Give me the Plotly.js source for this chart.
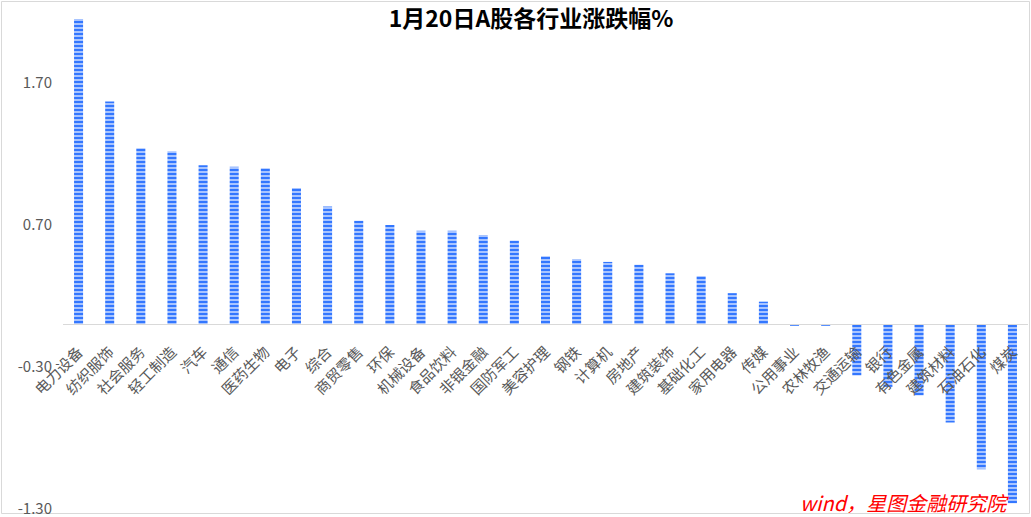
<!DOCTYPE html>
<html>
<head>
<meta charset="utf-8">
<script src="https://cdn.plot.ly/plotly-3.0.1.min.js"></script>
<style>
html,body{margin:0;padding:0;background:#fff;}
#chart{width:1031px;height:517px;}
</style>
</head>
<body>
<div id="chart"></div>
<script>
var categories = ["电力设备","纺织服饰","社会服务","轻工制造","汽车","通信","医药生物","电子","综合","商贸零售","环保","机械设备","食品饮料","非银金融","国防军工","美容护理","钢铁","计算机","房地产","建筑装饰","基础化工","家用电器","传媒","公用事业","农林牧渔","交通运输","银行","有色金属","建筑材料","石油石化","煤炭"];
var values = [2.15,1.57,1.24,1.22,1.12,1.11,1.10,0.96,0.83,0.73,0.70,0.66,0.66,0.63,0.59,0.48,0.46,0.44,0.42,0.36,0.34,0.22,0.16,-0.01,-0.01,-0.36,-0.44,-0.50,-0.69,-1.02,-1.26];
var yTicks = [-1.3,-0.3,0.7,1.7];
var yTickText = ["-1.30","-0.30","0.70","1.70"];
var titleText = "1月20日A股各行业涨跌幅%";
var sourceText = "wind，星图金融研究院";

var W = 1031, H = 517;
var mL = 63, mR = 3, mT = 12, mB = 8;
var yMin = -1.3, yMax = 2.2;
var plotW = W - mL - mR, plotH = H - mT - mB;
function px(x){ return (x - mL) / plotW; }
function py(y){ return (H - mB - y) / plotH; }

var font = "'Noto Sans CJK SC', 'Noto Sans', sans-serif";

var trace = {
  type: 'bar',
  x: categories,
  y: values,
  width: 0.29,
  marker: {
    color: '#3377FF',
    line: {width: 0},
    pattern: {shape: '-', fgcolor: '#3377FF', bgcolor: '#C6D8FF', size: 4, solidity: 0.6, fillmode: 'replace'}
  },
  hoverinfo: 'x+y'
};

var layout = {
  width: W, height: H,
  margin: {l: mL, r: mR, t: mT, b: mB, pad: 0},
  paper_bgcolor: '#ffffff',
  plot_bgcolor: 'rgba(0,0,0,0)',
  showlegend: false,
  title: {
    text: '<b>' + titleText + '</b>',
    font: {family: font, size: 23, color: '#000000'},
    xref: 'container', yref: 'container',
    x: 531 / W, y: 1 - 19 / H, xanchor: 'center', yanchor: 'middle'
  },
  xaxis: {
    type: 'category',
    anchor: 'free',
    position: (0 - yMin) / (yMax - yMin),
    showline: true, linecolor: '#D9D9D9', linewidth: 1,
    showgrid: false, zeroline: false,
    ticks: '',
    tickangle: -45,
    ticklabelstandoff: 12,
    tickfont: {family: font, size: 15, color: '#595959'},
    range: [-0.5, categories.length - 0.5],
    fixedrange: true
  },
  yaxis: {
    range: [yMin, yMax],
    tickvals: yTicks,
    ticktext: yTickText,
    showgrid: false, zeroline: false, showline: false,
    ticks: '',
    ticklabelstandoff: 10,
    ticklabeloverflow: 'allow',
    tickfont: {family: font, size: 15, color: '#595959'},
    fixedrange: true
  },
  shapes: [{
    type: 'rect', xref: 'paper', yref: 'paper',
    x0: px(1.5), x1: px(1029.5), y0: py(513.5), y1: py(1.5),
    line: {color: '#D9D9D9', width: 1}, fillcolor: 'rgba(0,0,0,0)', layer: 'below'
  }],
  annotations: [{
    text: '<i>' + sourceText + '</i>',
    xref: 'paper', yref: 'paper',
    x: px(1011), y: py(502), xanchor: 'right', yanchor: 'middle',
    showarrow: false,
    font: {family: font, size: 20, color: '#FF0000'}
  }]
};

Plotly.newPlot('chart', [trace], layout, {displayModeBar: false, staticPlot: true});
</script>
</body>
</html>
